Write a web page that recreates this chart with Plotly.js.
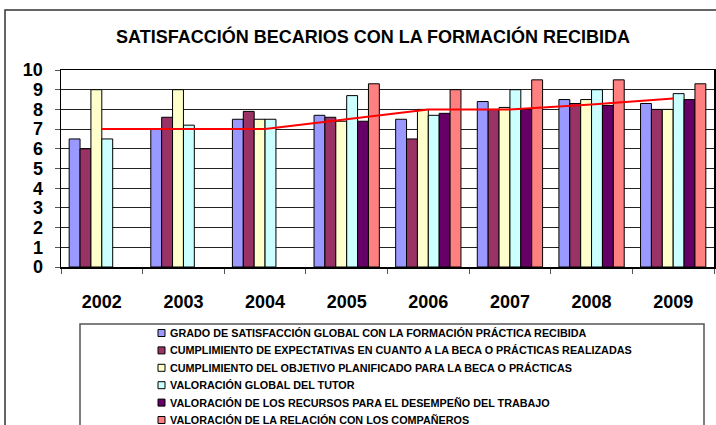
<!DOCTYPE html>
<html>
<head>
<meta charset="utf-8">
<script src="https://cdn.plot.ly/plotly-3.0.1.min.js"></script>
<style>
  html, body { margin: 0; padding: 0; background: #fff; }
  #chart { width: 716px; height: 425px; }
</style>
</head>
<body>
<div id="chart"></div>
<script>
// --- data ---
const years = ['2002', '2003', '2004', '2005', '2006', '2007', '2008', '2009'];

const seriesNames = [
    'GRADO DE SATISFACCIÓN GLOBAL CON LA FORMACIÓN PRÁCTICA RECIBIDA',
    'CUMPLIMIENTO DE EXPECTATIVAS EN CUANTO A LA BECA O PRÁCTICAS REALIZADAS',
    'CUMPLIMIENTO DEL OBJETIVO PLANIFICADO PARA LA BECA O PRÁCTICAS',
    'VALORACIÓN GLOBAL DEL TUTOR',
    'VALORACIÓN DE LOS RECURSOS PARA EL DESEMPEÑO DEL TRABAJO',
    'VALORACIÓN DE LA RELACIÓN CON LOS COMPAÑEROS'
];

const gradoGlobal    = [6.5, 7.0, 7.5, 7.7, 7.5, 8.4, 8.5, 8.3];
const expectativas   = [6.0, 7.6, 7.9, 7.6, 6.5, 8.0, 8.3, 8.0];
const objetivo       = [9.0, 9.0, 7.5, 7.4, 8.0, 8.1, 8.5, 8.0];
const tutor          = [6.5, 7.2, 7.5, 8.7, 7.7, 9.0, 9.0, 8.8];
const recursos       = [null, null, null, 7.4, 7.8, 8.0, 8.2, 8.5];
const companeros     = [null, null, null, 9.3, 9.0, 9.5, 9.5, 9.3];

const tendencia      = [7.0, 7.0, 7.0, 7.5, 8.0, 8.0, 8.25, 8.55];

const barColors = ['#9999FF', '#993366', '#FFFFCC', '#CCFFFF', '#660066', '#FF8080'];
const allSeries = [gradoGlobal, expectativas, objetivo, tutor, recursos, companeros];

// --- traces ---
let plotData = allSeries.map((vals, i) => ({
    type: 'bar',
    x: years,
    y: vals,
    name: seriesNames[i],
    marker: { color: barColors[i], line: { color: '#000', width: 1 } },
    hoverinfo: 'x+y'
}));

// red line on top of the bars
plotData.push({
    type: 'scatter',
    mode: 'lines',
    x: years,
    y: tendencia,
    line: { color: '#FF0000', width: 2 },
    showlegend: false
});

const font = 'Liberation Sans, Arial, sans-serif';

// plot box in pixels (used to place the legend box below it)
const plotL = 61, plotR = 714, plotT = 70, plotB = 267;
const px = x => (x - plotL) / (plotR - plotL);
const py = y => (plotB - y) / (plotB - plotT);

// --- hand built legend: Plotly's own rows are too tall for this box ---
let legendShapes = [];
let legendNotes = [];
seriesNames.forEach((name, i) => {
    const rowY = 333 + i * 17.4;
    legendShapes.push({
        type: 'rect', xref: 'paper', yref: 'paper',
        x0: px(158), x1: px(165), y0: py(rowY + 3.5), y1: py(rowY - 3.5),
        fillcolor: barColors[i], line: { color: '#000', width: 1 }
    });
    legendNotes.push({
        xref: 'paper', yref: 'paper', x: px(168), y: py(rowY),
        xanchor: 'left', yanchor: 'middle', showarrow: false,
        text: name,
        font: { family: font, size: 10.8, weight: 700, color: '#000' }
    });
});

let layout = {
    width: 716,
    height: 425,
    margin: { l: plotL, r: 716 - plotR, t: plotT, b: 425 - plotB, autoexpand: false },
    paper_bgcolor: '#fff',
    plot_bgcolor: '#fff',
    barmode: 'group',
    bargap: 0.2,
    bargroupgap: 0,
    showlegend: false,
    title: {
        text: 'SATISFACCIÓN BECARIOS CON LA FORMACIÓN RECIBIDA',
        font: { family: font, size: 18, weight: 700, color: '#000' },
        xref: 'container', x: 0.521, xanchor: 'center',
        yref: 'container', y: 0.913, yanchor: 'middle'
    },
    xaxis: {
        type: 'category',
        showline: true, linecolor: '#000', linewidth: 1.5, mirror: true,
        ticks: 'outside', tickson: 'boundaries', ticklen: 5, tickcolor: '#555',
        ticklabelstandoff: 18,
        tickfont: { family: font, size: 18, weight: 700, color: '#000' },
        showgrid: false, zeroline: false, fixedrange: true
    },
    yaxis: {
        range: [0, 10], dtick: 1,
        showline: true, linecolor: '#000', linewidth: 1.5, mirror: true,
        ticks: 'outside', ticklen: 5, tickcolor: '#555',
        ticklabelstandoff: 8,
        tickfont: { family: font, size: 18, weight: 700, color: '#000' },
        showgrid: true, gridcolor: '#222', gridwidth: 1,
        zeroline: false, fixedrange: true
    },
    annotations: legendNotes,
    shapes: [
        // outer chart frame
        { type: 'rect', xref: 'paper', yref: 'paper',
          x0: px(5), x1: px(730), y0: py(440), y1: py(10),
          line: { color: '#333', width: 1.5 }, layer: 'below' },
        // legend frame
        { type: 'rect', xref: 'paper', yref: 'paper',
          x0: px(80), x1: px(704), y0: py(440), y1: py(324),
          line: { color: '#555', width: 1.5 }, layer: 'below' }
    ].concat(legendShapes)
};

Plotly.newPlot('chart', plotData, layout, { displayModeBar: false, staticPlot: true });
</script>
</body>
</html>
